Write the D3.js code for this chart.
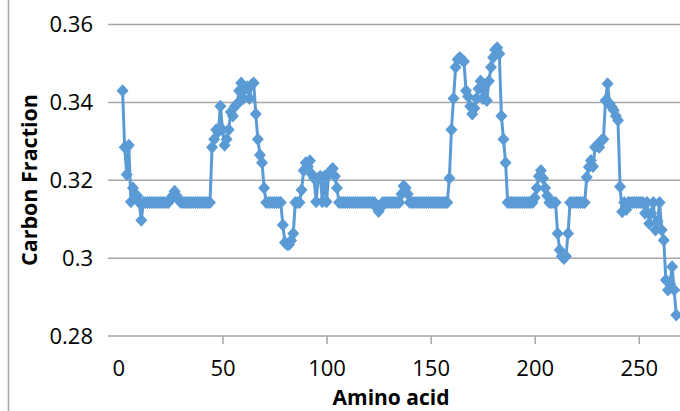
<!DOCTYPE html>
<html>
<head>
<meta charset="utf-8">
<script src="https://cdn.jsdelivr.net/npm/d3@7"></script>
<style>
    body { margin: 0; background: #fff; }
    text { font-family: "Open Sans", sans-serif; fill: #000; }
</style>
</head>
<body>
<div id="chart"></div>
<script>
// amino acid position of the first value
const aminoStart = 2;

// carbon fraction, one value per amino acid (2..268)
const carbonFraction = [
    0.343, 0.3285, 0.3215, 0.329, 0.3145, 0.318, 0.3165, 0.316,
    0.3143, 0.3097, 0.3143, 0.3143, 0.3143, 0.3143, 0.3143, 0.3143, 0.3143, 0.3143,
    0.3143, 0.3143, 0.3143, 0.3143, 0.3143, 0.315, 0.316, 0.3172, 0.316, 0.315,
    0.3143, 0.3143, 0.3143, 0.3143, 0.3143, 0.3143, 0.3143, 0.3143, 0.3143, 0.3143,
    0.3143, 0.3143, 0.3143, 0.3143, 0.3143, 0.3285, 0.3305, 0.333, 0.3325, 0.339,
    0.333, 0.329, 0.3305, 0.333, 0.3375, 0.3365, 0.339, 0.3395, 0.343, 0.345,
    0.341, 0.3435, 0.344, 0.341, 0.3445, 0.345, 0.337, 0.3305, 0.3265, 0.3245,
    0.318, 0.3143, 0.3143, 0.3143, 0.3143, 0.3143, 0.3143, 0.3143, 0.3143, 0.3085,
    0.304, 0.3035, 0.3035, 0.3045, 0.3063, 0.3143, 0.3143, 0.3143, 0.3175, 0.3225,
    0.3245, 0.3235, 0.325, 0.3215, 0.3205, 0.3145, 0.3205, 0.321, 0.3145, 0.321,
    0.3145, 0.3215, 0.3225, 0.323, 0.321, 0.318, 0.3143, 0.3143, 0.3143, 0.3143,
    0.3143, 0.3143, 0.3143, 0.3143, 0.3143, 0.3143, 0.3143, 0.3143, 0.3143, 0.3143,
    0.3143, 0.3143, 0.3143, 0.3143, 0.313, 0.312, 0.313, 0.3143, 0.3143, 0.3143,
    0.3143, 0.3143, 0.3143, 0.3143, 0.3143, 0.3143, 0.3165, 0.3185, 0.318, 0.3165,
    0.3143, 0.3143, 0.3143, 0.3143, 0.3143, 0.3143, 0.3143, 0.3143, 0.3143, 0.3143,
    0.3143, 0.3143, 0.3143, 0.3143, 0.3143, 0.3143, 0.3143, 0.3143, 0.3143, 0.3205,
    0.333, 0.341, 0.349, 0.351, 0.3515, 0.351, 0.3505, 0.343, 0.3415, 0.339,
    0.337, 0.3385, 0.341, 0.3435, 0.3455, 0.341, 0.3445, 0.3405, 0.3455, 0.349,
    0.3515, 0.3535, 0.354, 0.3525, 0.3365, 0.3305, 0.3245, 0.3143, 0.3143, 0.3143,
    0.3143, 0.3143, 0.3143, 0.3143, 0.3143, 0.3143, 0.3143, 0.3143, 0.3143, 0.3143,
    0.3155, 0.318, 0.321, 0.3225, 0.3205, 0.318, 0.316, 0.3143, 0.3143, 0.3143,
    0.3143, 0.3063, 0.3021, 0.3005, 0.2999, 0.3005, 0.3063, 0.3143, 0.3143, 0.3143,
    0.3143, 0.3143, 0.3143, 0.3143, 0.3143, 0.3208, 0.3234, 0.3251, 0.3235, 0.3285,
    0.329, 0.3285, 0.3302, 0.3305, 0.3405, 0.3448, 0.3397, 0.3388, 0.338, 0.3365,
    0.3354, 0.3183, 0.3119, 0.3143, 0.3125, 0.3143, 0.3143, 0.3143, 0.3143, 0.3143,
    0.3143, 0.3143, 0.3143, 0.3115, 0.3143, 0.3089, 0.3115, 0.3143, 0.3072, 0.3095,
    0.3143, 0.3072, 0.3046, 0.2944, 0.2918, 0.2935, 0.2978, 0.2918, 0.2854
];

const xTicks = [0, 50, 100, 150, 200, 250];
const yTicks = [0.28, 0.30, 0.32, 0.34, 0.36];

const width = 680, height = 411;
const plotLeft = 108, plotRight = 680;

const svg = d3.select("#chart")
    .append("svg")
    .attr("width", width)
    .attr("height", height);

const data = carbonFraction.map((v, i) => ({ x: aminoStart + i, y: v }));

const xScale = d3.scaleLinear().domain([0, 250]).range([118.4, 638.8]);
const yScale = d3.scaleLinear().domain([0.28, 0.36]).range([336, 24.5]);

// chart area border on the left
svg.append("line")
    .attr("x1", 8.5).attr("x2", 8.5)
    .attr("y1", 0).attr("y2", height)
    .attr("stroke", "#a8a8a8")
    .attr("stroke-width", 1.5);

// horizontal gridlines
svg.append("g")
    .selectAll("line")
    .data(yTicks)
    .join("line")
    .attr("x1", plotLeft).attr("x2", plotRight)
    .attr("y1", d => yScale(d)).attr("y2", d => yScale(d))
    .attr("stroke", "#a6a6a6")
    .attr("stroke-width", 1.5);

// y tick labels
svg.append("g")
    .selectAll("text")
    .data(yTicks)
    .join("text")
    .attr("x", 93)
    .attr("y", d => yScale(d))
    .attr("dy", "0.36em")
    .attr("text-anchor", "end")
    .style("font-size", "22px")
    .text(d => d3.format(".2~f")(d));

// x axis ticks and labels
let xAxis = d3.axisBottom(xScale)
    .tickValues(xTicks)
    .tickSize(8)
    .tickFormat(d3.format("d"));

let gx = svg.append("g")
    .attr("transform", `translate(0,${yScale(0.28)})`)
    .call(xAxis);
gx.select(".domain").remove();
gx.selectAll(".tick line").attr("stroke", "#a6a6a6").attr("stroke-width", 1.5)
    .filter(d => d === 0).remove();
gx.selectAll(".tick text")
    .attr("y", 24)
    .attr("fill", "#000")
    .style("font-family", "'Open Sans', sans-serif")
    .style("font-size", "22px");

// axis titles
svg.append("text")
    .attr("x", 391)
    .attr("y", 405)
    .attr("text-anchor", "middle")
    .style("font-size", "21px")
    .style("font-weight", "bold")
    .text("Amino acid");

svg.append("text")
    .attr("transform", "translate(37,180) rotate(-90)")
    .attr("text-anchor", "middle")
    .style("font-size", "21.5px")
    .style("font-weight", "bold")
    .text("Carbon Fraction");

// series line
const line = d3.line()
    .x(d => xScale(d.x))
    .y(d => yScale(d.y));

svg.append("path")
    .datum(data)
    .attr("d", line)
    .attr("fill", "none")
    .attr("stroke", "#5b9bd5")
    .attr("stroke-width", 3)
    .attr("stroke-linejoin", "round");

// diamond markers
const rx = 6, ry = 6.5;
svg.append("g")
    .selectAll("path")
    .data(data)
    .join("path")
    .attr("transform", d => `translate(${xScale(d.x)},${yScale(d.y)})`)
    .attr("d", `M0,${-ry}L${rx},0L0,${ry}L${-rx},0Z`)
    .attr("fill", "#5b9bd5");
</script>
</body>
</html>
